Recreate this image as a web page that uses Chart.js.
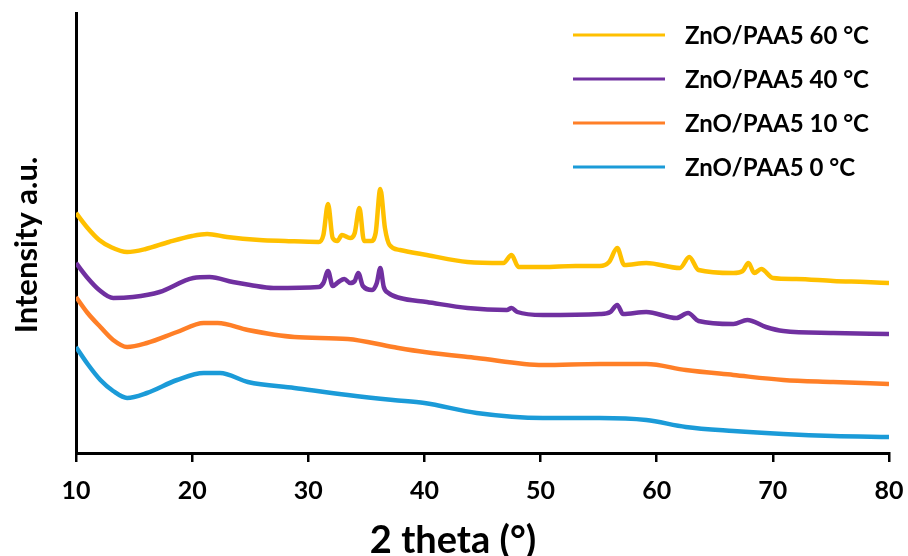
<!DOCTYPE html>
<html>
<head>
<meta charset="utf-8">
<script src="https://cdn.jsdelivr.net/npm/chart.js@4/dist/chart.umd.min.js"></script>
<style>
  html, body { margin: 0; padding: 0; background: #fff; }
  #wrap { width: 908px; height: 556px; }
</style>
</head>
<body>
<div id="wrap"><canvas id="xrd"></canvas></div>
<script>
// 2 theta positions and intensities (arbitrary units, offset per curve)
const theta60 = [10, 11, 12, 13, 14.4, 16, 18, 20, 21.3, 23, 25.8, 28, 30.9, 31.3, 31.7, 32.1, 32.5, 32.9, 33.6, 34.0, 34.4, 34.8, 35.4, 35.8, 36.2, 36.6, 37.0, 37.9, 40.2, 43.7, 46.8, 47.5, 48.1, 50.2, 53, 55.1, 55.9, 56.6, 57.2, 59.1, 62.0, 62.8, 63.6, 66.6, 67.4, 67.9, 68.4, 69.0, 70.0, 72, 75.2, 78, 80];
const int60 = [240, 225, 213, 206, 201, 204, 211, 217, 219, 216, 213, 212, 211, 218, 249, 215, 212, 218, 215, 220, 245, 212, 212, 220, 264, 225, 208, 203, 198, 191, 190, 198, 186, 186, 187, 187, 191, 205, 188, 190, 185, 196, 183, 180, 182, 190, 180, 184, 175, 174, 172, 171, 170];

const theta40 = [10, 11, 12, 13.2, 14.9, 17.2, 20.1, 21.5, 23.5, 25, 27.0, 30.9, 31.3, 31.7, 32.1, 32.6, 33.1, 33.6, 34.0, 34.3, 34.7, 35.5, 35.9, 36.2, 36.5, 36.9, 37.9, 40.2, 43.7, 47.1, 47.5, 48, 50.2, 55.1, 56.0, 56.6, 57.1, 59.1, 61.7, 62.7, 63.6, 66.6, 67.8, 69.4, 70.9, 75.2, 80];
const int40 = [190, 175, 163, 155, 156, 161, 175, 176, 171, 168, 165, 166, 170, 182, 167, 171, 174, 170, 172, 180, 167, 163, 170, 185, 166, 160, 155, 151, 145, 143, 145, 141, 138, 139, 141, 148, 139, 141, 135, 140, 132, 129, 133, 126, 122, 120, 119];

const theta10 = [10, 11, 12.1, 13.2, 14.4, 16.1, 18.7, 21.0, 22.2, 24.8, 28.8, 33.4, 37.3, 40, 44.5, 50.2, 55.1, 59.1, 62.5, 66.6, 70.9, 75.2, 80];
const int10 = [156, 140, 126, 113, 106, 110, 121, 130, 130, 123, 116, 114, 106, 101, 95, 88, 89, 89, 83, 78, 73, 71, 69];

const theta0 = [10, 11, 12.1, 13.2, 14.4, 16.1, 18.7, 21.0, 22.4, 24.8, 28.8, 33.4, 37.3, 40, 44.5, 50.2, 55.1, 59.1, 62.5, 66.6, 70.9, 75.2, 80];
const int0 = [106, 89, 73, 62, 55, 60, 73, 80, 80, 71, 65, 58, 53, 50, 40, 35, 35, 33, 26, 22, 19, 17, 16];

const seriesNames = ['ZnO/PAA5 0 °C', 'ZnO/PAA5 10 °C', 'ZnO/PAA5 40 °C', 'ZnO/PAA5 60 °C'];
const seriesColors = ['#1B9BD8', '#FF7F27', '#7030A0', '#FFC000'];
const xTicks = [10, 20, 30, 40, 50, 60, 70, 80];
const xTitle = '2 theta (°)';
const yTitle = 'Intensity a.u.';

function toPoints(xs, ys) {
  return xs.map((x, i) => ({ x: x, y: ys[i] }));
}

const fontName = 'Lato, "Open Sans", sans-serif';

// legend and axis titles are drawn by hand: the originals sit off-centre
const annotPlugin = {
  id: 'annot',
  afterDraw(chart) {
    const ctx = chart.ctx;
    const rows = [35, 79, 123, 167];
    const sets = chart.data.datasets.slice().reverse();
    ctx.save();
    sets.forEach((ds, i) => {
      ctx.strokeStyle = ds.borderColor;
      ctx.lineWidth = 3;
      ctx.beginPath();
      ctx.moveTo(573, rows[i]);
      ctx.lineTo(665, rows[i]);
      ctx.stroke();
      ctx.fillStyle = '#000';
      ctx.font = 'bold 24px ' + fontName;
      ctx.textBaseline = 'middle';
      ctx.textAlign = 'left';
      ctx.fillText(ds.label, 685, rows[i] + 1);
    });

    ctx.fillStyle = '#000';
    ctx.textAlign = 'center';
    ctx.textBaseline = 'middle';
    ctx.font = 'bold 38px ' + fontName;
    ctx.fillText(xTitle, 453, 541);

    ctx.translate(27, 245);
    ctx.rotate(-Math.PI / 2);
    ctx.font = 'bold 31px ' + fontName;
    ctx.fillText(yTitle, 0, 0);
    ctx.restore();
  }
};

const datasets = [
  toPoints(theta0, int0),
  toPoints(theta10, int10),
  toPoints(theta40, int40),
  toPoints(theta60, int60)
].map((pts, i) => ({
  label: seriesNames[i],
  data: pts,
  borderColor: seriesColors[i],
  backgroundColor: seriesColors[i],
  borderWidth: 4.5,
  pointRadius: 0,
  cubicInterpolationMode: 'monotone',
  fill: false
}));

new Chart(document.getElementById('xrd'), {
  type: 'line',
  data: { datasets: datasets },
  options: {
    responsive: true,
    maintainAspectRatio: false,
    animation: false,
    layout: { padding: { left: 68, right: 19, top: 13, bottom: 36 } },
    plugins: {
      legend: { display: false },
      tooltip: { enabled: false }
    },
    scales: {
      x: {
        type: 'linear',
        min: 10,
        max: 80,
        afterBuildTicks: (axis) => { axis.ticks = xTicks.map(v => ({ value: v })); },
        ticks: {
          color: '#000',
          padding: 2,
          font: { family: fontName, size: 25, weight: 'bold', lineHeight: 2.16 }
        },
        grid: {
          display: true,
          drawOnChartArea: false,
          drawTicks: true,
          tickLength: 9,
          color: '#000',
          lineWidth: 2.5
        },
        border: { display: true, color: '#000', width: 3 },
        title: { display: false }
      },
      y: {
        min: 0,
        max: 440,
        ticks: { display: false },
        grid: { display: false },
        border: { display: true, color: '#000', width: 3 },
        title: { display: false }
      }
    }
  },
  plugins: [annotPlugin]
});
</script>
</body>
</html>
